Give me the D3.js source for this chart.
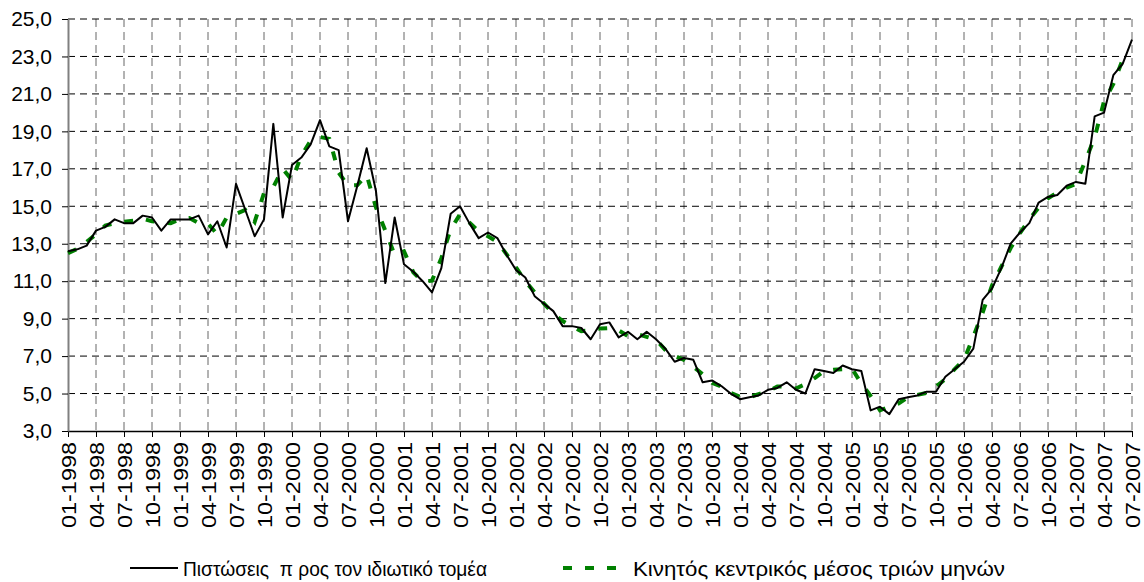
<!DOCTYPE html>
<html>
<head>
<meta charset="utf-8">
<script src="https://cdn.jsdelivr.net/npm/d3@7"></script>
<style>
  body { margin: 0; background: #fff; }
  text { font-family: "Liberation Sans", Arial, sans-serif; fill: #000; }
</style>
</head>
<body>
<div id="container"></div>
<script>
/* DATA */
// monthly credit growth to private sector, 01-1998 .. 07-2007
const credit = [
  12.6, 12.7, 12.9, 13.7, 13.9, 14.3, 14.1, 14.1, 14.5, 14.4, 13.7, 14.3,
  14.3, 14.3, 14.5, 13.5, 14.2, 12.8, 16.2, 14.8, 13.4, 14.3, 19.4, 14.4,
  17.2, 17.6, 18.3, 19.6, 18.2, 18.0, 14.2, 16.1, 18.1, 15.8, 10.9, 14.4,
  11.9, 11.5, 11.0, 10.4, 11.7, 14.6, 15.0, 14.1, 13.3, 13.6, 13.3, 12.4,
  11.6, 11.2, 10.2, 9.8, 9.4, 8.6, 8.6, 8.5, 7.9, 8.7, 8.8, 8.0,
  8.3, 7.9, 8.3, 7.9, 7.4, 6.7, 6.9, 6.8, 5.6, 5.7, 5.4, 5.0,
  4.7, 4.8, 4.9, 5.2, 5.3, 5.6, 5.2, 5.0, 6.3, 6.2, 6.1, 6.5,
  6.3, 6.2, 4.1, 4.3, 3.9, 4.7, 4.8, 4.9, 5.1, 5.1, 5.9, 6.3,
  6.7, 7.4, 10.0, 10.6, 11.7, 13.0, 13.6, 14.1, 15.2, 15.5, 15.6, 16.1,
  16.3, 16.2, 19.8, 20.0, 22.0, 22.6, 23.9
];

// three month centred moving average, 01-1998 .. 06-2007
const movingAvg = [
  12.5, 12.73, 13.1, 13.5, 13.97, 14.1, 14.17, 14.23, 14.33, 14.2, 14.13, 14.1,
  14.3, 14.37, 14.1, 14.07, 13.5, 14.4, 14.6, 14.8, 14.17, 15.7, 16.03, 17.0,
  16.4, 17.7, 18.5, 18.7, 18.6, 16.8, 16.1, 16.13, 16.67, 14.93, 13.7, 12.4,
  12.6, 11.47, 10.97, 11.03, 12.23, 13.77, 14.57, 14.13, 13.67, 13.4, 13.1, 12.43,
  11.73, 11.0, 10.4, 9.8, 9.27, 8.87, 8.57, 8.33, 8.37, 8.47, 8.5, 8.37,
  8.07, 8.17, 8.03, 7.87, 7.33, 7.0, 6.8, 6.43, 6.03, 5.57, 5.37, 5.03,
  4.83, 4.8, 4.97, 5.13, 5.37, 5.37, 5.27, 5.5, 5.83, 6.2, 6.27, 6.3,
  6.33, 5.53, 4.87, 4.1, 4.3, 4.47, 4.8, 4.93, 5.03, 5.37, 5.77, 6.3,
  6.8, 8.03, 9.33, 10.77, 11.77, 12.77, 13.57, 14.3, 14.93, 15.43, 15.73, 16.0,
  16.2, 17.43, 18.67, 20.6, 21.53, 22.83
];

const tickLabels = [
  "01-1998", "04-1998", "07-1998", "10-1998", "01-1999", "04-1999", "07-1999", "10-1999",
  "01-2000", "04-2000", "07-2000", "10-2000", "01-2001", "04-2001", "07-2001", "10-2001",
  "01-2002", "04-2002", "07-2002", "10-2002", "01-2003", "04-2003", "07-2003", "10-2003",
  "01-2004", "04-2004", "07-2004", "10-2004", "01-2005", "04-2005", "07-2005", "10-2005",
  "01-2006", "04-2006", "07-2006", "10-2006", "01-2007", "04-2007", "07-2007"
];

const yTicks = [3, 5, 7, 9, 11, 13, 15, 17, 19, 21, 23, 25];

const seriesNames = [
  "Πιστώσεις  π ρος τον ιδιωτικό τομέα",
  "Κινητός κεντρικός μέσος τριών μηνών"
];

/* CONSTANTS */
const width = 1144,
  height = 582,
  margin = { top: 19, bottom: 151, left: 68, right: 12 };

const fmtMonth = d3.timeFormat("%m-%Y");
const months = d3.timeMonth
  .range(new Date(1998, 0, 1), new Date(2007, 7, 1))
  .map(fmtMonth);

/* SCALES */
const xScale = d3.scalePoint()
  .domain(months)
  .range([margin.left, width - margin.right]);

const yScale = d3.scaleLinear()
  .domain([3, 25])
  .range([height - margin.bottom, margin.top]);

const svg = d3.select("#container")
  .append("svg")
  .attr("width", width)
  .attr("height", height);

// gridlines
svg.append("g")
  .selectAll("line")
  .data(tickLabels.slice(1))
  .join("line")
  .attr("x1", d => xScale(d))
  .attr("x2", d => xScale(d))
  .attr("y1", yScale(25))
  .attr("y2", yScale(3))
  .attr("stroke", "#666")
  .attr("stroke-width", 1)
  .attr("stroke-dasharray", "8,5");

svg.append("g")
  .selectAll("line")
  .data(yTicks.slice(1))
  .join("line")
  .attr("x1", margin.left)
  .attr("x2", width - margin.right)
  .attr("y1", d => yScale(d))
  .attr("y2", d => yScale(d))
  .attr("stroke", "#000")
  .attr("stroke-width", 1)
  .attr("stroke-dasharray", "7,5");

// AXES
const xAxis = d3.axisBottom(xScale)
  .tickValues(tickLabels)
  .tickSizeInner(6)
  .tickSizeOuter(0);

const xg = svg.append("g")
  .attr("transform", `translate(0, ${yScale(3)})`)
  .call(xAxis);
xg.select(".domain").attr("stroke", "#000").attr("stroke-width", 1.5);
xg.selectAll("text")
  .attr("font-size", 21)
  .attr("textLength", 86)
  .attr("lengthAdjust", "spacingAndGlyphs")
  .attr("text-anchor", "end")
  .attr("transform", "rotate(-90)")
  .attr("x", -11)
  .attr("y", 0)
  .attr("dy", "0.34em");

const yAxis = d3.axisLeft(yScale)
  .tickValues(yTicks)
  .tickSizeInner(6)
  .tickSizeOuter(0)
  .tickFormat(d => d3.format(".1f")(d).replace(".", ","));

const yg = svg.append("g")
  .attr("transform", `translate(${margin.left}, 0)`)
  .call(yAxis);
yg.select(".domain").attr("stroke", "#808080").attr("stroke-width", 2);
yg.selectAll("text")
  .attr("font-size", 21)
  .attr("x", -16);

// LINES
const line = d3.line()
  .x((d, i) => xScale(months[i]))
  .y(d => yScale(d));

svg.append("path")
  .datum(movingAvg)
  .attr("fill", "none")
  .attr("stroke", "#008000")
  .attr("stroke-width", 4)
  .attr("stroke-dasharray", "9,13")
  .attr("d", line);

svg.append("path")
  .datum(credit)
  .attr("fill", "none")
  .attr("stroke", "#000")
  .attr("stroke-width", 2)
  .attr("stroke-linejoin", "round")
  .attr("d", line);

// LEGEND
const legend = svg.append("g").attr("transform", "translate(0, 568)");

legend.append("line")
  .attr("x1", 130).attr("x2", 178)
  .attr("stroke", "#000").attr("stroke-width", 2);
legend.append("text")
  .attr("x", 183).attr("dy", "0.36em")
  .attr("font-size", 21)
  .attr("textLength", 304)
  .attr("lengthAdjust", "spacingAndGlyphs")
  .style("white-space", "pre")
  .text(seriesNames[0]);

legend.append("line")
  .attr("x1", 563).attr("x2", 628)
  .attr("stroke", "#008000").attr("stroke-width", 4)
  .attr("stroke-dasharray", "9,13");
legend.append("text")
  .attr("x", 633).attr("dy", "0.36em")
  .attr("font-size", 21)
  .attr("textLength", 372)
  .attr("lengthAdjust", "spacingAndGlyphs")
  .style("white-space", "pre")
  .text(seriesNames[1]);
</script>
</body>
</html>
